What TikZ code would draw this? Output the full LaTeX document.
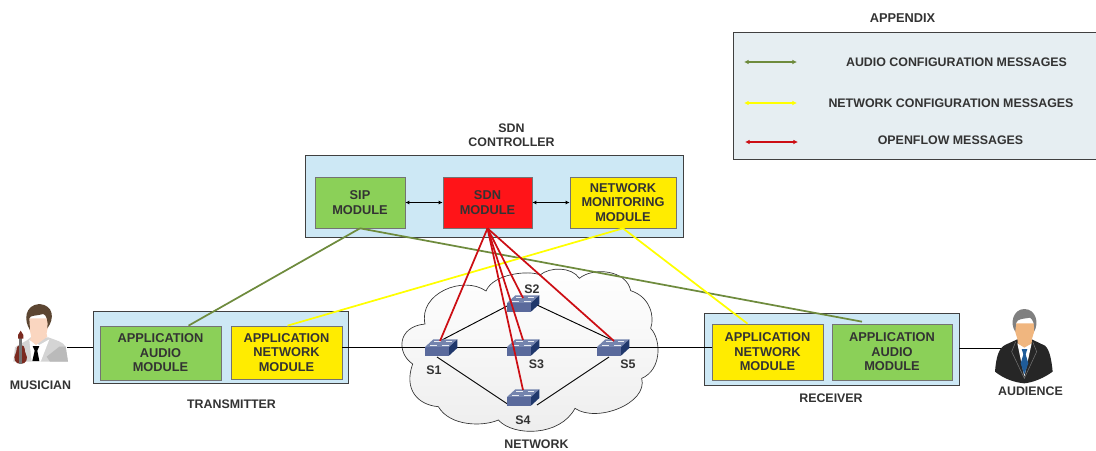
\documentclass[tikz,border=0pt]{standalone}
\usepackage{fontspec}
\setmainfont{Liberation Sans}
\usetikzlibrary{arrows.meta,calc}
\definecolor{txt}{HTML}{333333}
\definecolor{panel}{HTML}{CDE8F5}
\definecolor{modgreen}{HTML}{8BD058}
\definecolor{modred}{HTML}{FF1418}
\definecolor{modyellow}{HTML}{FFEC00}
\definecolor{lgreen}{HTML}{6E8B3D}
\definecolor{lyellow}{HTML}{FFFF00}
\definecolor{lred}{HTML}{CC0E14}
\definecolor{legendbg}{HTML}{E6EEF2}
\definecolor{swfront}{HTML}{5A6A9C}
\definecolor{swtop}{HTML}{7484AE}
\definecolor{swside}{HTML}{20386C}
\definecolor{hairbrown}{HTML}{5C4632}
\definecolor{skin}{HTML}{FAD6C0}
\definecolor{skindark}{HTML}{F0B67F}
\definecolor{violin}{HTML}{7A2A20}
\definecolor{tieblue}{HTML}{1F5C99}
\tikzset{
  sized/.style 2 args={minimum width=#1*0.75pt,minimum height=#2*0.75pt},
  panelbox/.style={draw=black!75,line width=0.6pt,fill=panel,inner sep=0pt},
  modbox/.style={draw=black!55,line width=0.5pt,inner sep=0pt,align=center,text=txt,
    font=\fontsize{9.6}{10.9}\selectfont\bfseries},
  lbl/.style={inner sep=0pt,align=center,text=txt,font=\fontsize{9.3}{10.6}\selectfont\bfseries},
  audio/.style={draw=lgreen,line width=1.3pt},
  netw/.style={draw=lyellow,line width=1.3pt},
  ofl/.style={draw=lred,line width=1.3pt},
  wire/.style={draw=black,line width=0.7pt},
  tips/.style={{Latex[length=3pt,width=3pt]}-{Latex[length=3pt,width=3pt]}},
  bigtips/.style={{Latex[length=3.5pt,width=3.6pt]}-{Latex[length=3.5pt,width=3.6pt]}},
  zoomed/.style 2 args={shift={(#1,#2)},x=0.25pt,y=-0.25pt},
}
% switch icon: #1 = name of the coordinate at the left top corner of the front face
\newcommand{\switchicon}[1]{%
  \begin{scope}[shift={(#1)},x=0.25pt,y=-0.25pt]
    \fill[swtop] (0,0) -- (25,-23) -- (97,-23) -- (72,0) -- cycle;
    \fill[swside] (72,0) -- (97,-23) -- (97,3) -- (72,26) -- cycle;
    \fill[swfront] (0,0) rectangle (72,26);
    \draw[white!85!swtop,line width=0.5pt] (28,-16) -- (48,-16) (62,-16) -- (82,-16) (16,-6) -- (36,-6) (52,-6) -- (72,-6);
  \end{scope}}
\begin{document}
\begin{tikzpicture}[x=0.75pt,y=-0.75pt]
\useasboundingbox (0,0) rectangle (1096,450);

% legend
\fill[legendbg] (733,32) rectangle (1096,159);
\draw[black!75,line width=0.6pt] (1096,32) -- (733,32) -- (733,159) -- (1096,159);
\node[lbl,font=\fontsize{9.6}{11}\selectfont\bfseries] (apx) at (902.5,18) {APPENDIX};
\node[lbl] (la) at (956.5,62.5) {AUDIO CONFIGURATION MESSAGES};
\node[lbl] (ln) at (951,103.5) {NETWORK CONFIGURATION MESSAGES};
\node[lbl] (lo) at (950.5,140) {OPENFLOW MESSAGES};
\coordinate (la1) at (744,62);  \coordinate (la2) at (797,62);
\coordinate (ln1) at (744,103); \coordinate (ln2) at (797,103);
\coordinate (lo1) at (745,142); \coordinate (lo2) at (798,142);
\draw[audio,line width=1pt,bigtips] (la1) -- (la2);
\draw[netw,line width=1pt,bigtips] (ln1) -- (ln2);
\draw[ofl,line width=1pt,bigtips] (lo1) -- (lo2);

% cloud
\begin{scope}[zoomed={390}{220}]
\draw[black!80,line width=0.5pt,top color=white,bottom color=black!7]
  (105,312) .. controls (85,220) and (220,165) .. (288,213)
  .. controls (310,160) and (420,150) .. (450,165)
  .. controls (480,140) and (545,140) .. (568,175)
  .. controls (610,140) and (710,150) .. (722,212)
  .. controls (780,230) and (795,290) .. (782,325)
  .. controls (815,360) and (815,450) .. (755,475)
  .. controls (775,550) and (620,610) .. (555,565)
  .. controls (510,650) and (370,650) .. (325,600)
  .. controls (280,620) and (180,620) .. (145,560)
  .. controls (85,555) and (40,510) .. (68,432)
  .. controls (20,400) and (20,320) .. (105,312) -- cycle;
\end{scope}

% panels
\node[panelbox,sized={378}{82}] (ctrl) at (494,196) {};
\node[panelbox,sized={255}{72}] (tx) at (220.5,347) {};
\node[panelbox,sized={255}{72}] (rx) at (831.5,349) {};

% modules
\node[modbox,fill=modgreen,sized={90}{51}] (sip) at (360,202.5) {SIP\\MODULE};
\node[modbox,fill=modred,sized={89}{51}] (sdn) at (487.5,202.5) {SDN\\MODULE};
\node[modbox,fill=modyellow,sized={106}{51}] (nm) at (623,202.5) {NETWORK\\MONITORING\\MODULE};
\node[modbox,fill=modgreen,sized={121}{54}] (txa) at (160.5,353) {APPLICATION\\AUDIO\\MODULE};
\node[modbox,fill=modyellow,sized={111}{53}] (txn) at (286.5,352.5) {APPLICATION\\NETWORK\\MODULE};
\node[modbox,fill=modyellow,sized={111}{56}] (rxn) at (767.5,352) {APPLICATION\\NETWORK\\MODULE};
\node[modbox,fill=modgreen,sized={120}{56}] (rxa) at (892,352) {APPLICATION\\AUDIO\\MODULE};

% labels
\node[lbl] (ctl) at (511.5,135) {SDN\\CONTROLLER};
\node[lbl] (mus) at (40.5,385) {MUSICIAN};
\node[lbl] (tl) at (231.5,404) {TRANSMITTER};
\node[lbl] (rl) at (831,398) {RECEIVER};
\node[lbl] (aud) at (1030.5,391) {AUDIENCE};
\node[lbl] (net) at (536.5,444.5) {NETWORK};
\node[lbl] (ts1) at (434,370) {S1};
\node[lbl] (ts2) at (532,289) {S2};
\node[lbl] (ts3) at (536.5,364.5) {S3};
\node[lbl] (ts4) at (523,420) {S4};
\node[lbl] (ts5) at (628,364.5) {S5};

% switches
\coordinate (s1) at (425,347);
\coordinate (s2) at (507,303);
\coordinate (s3) at (507,347);
\coordinate (s4) at (507,397);
\coordinate (s5) at (597,347);
\coordinate (mp) at (67,347);
\coordinate (ap) at (1003,348);

% wires
\draw[wire] (mp) -- (tx.west |- mp);
\draw[wire] (rx.east |- ap) -- (ap);
\draw[wire] (txn.east |- s1) -- (rxn.west |- s1);
\draw[wire] ($(s1)+(15,-6)$) -- ($(s2)+(2,2)$);
\draw[wire] ($(s2)+(30,2)$) -- ($(s5)+(17,-6)$);
\draw[wire] ($(s1)+(12,10)$) -- ($(s4)+(2,8)$);
\draw[wire] ($(s4)+(30,8)$) -- ($(s5)+(12,10)$);
\draw[wire,tips] (sip) -- (sdn);
\draw[wire,tips] (sdn) -- (nm);

\switchicon{s1}\switchicon{s2}\switchicon{s3}\switchicon{s4}\switchicon{s5}

% message lines
\draw[audio] (sip.south) -- ($(txa.north)+(28,0)$);
\draw[audio] (sip.south) -- ($(rxa.north)+(-30,-2)$);
\draw[netw] (nm.south) -- ($(txn.north)+(1,0)$);
\draw[netw] (nm.south) -- ($(rxn.north)+(-20,0)$);
\draw[ofl] (sdn.south) -- ($(s1)+(15,-6)$);
\draw[ofl] (sdn.south) -- ($(s2)+(16,-5)$);
\draw[ofl] (sdn.south) -- ($(s3)+(16,-7)$);
\draw[ofl] (sdn.south) -- ($(s4)+(16,-7)$);
\draw[ofl] (sdn.south) -- ($(s5)+(17,-6)$);

% musician
\begin{scope}[zoomed={0}{290}]
\fill[black!17] (45,172) .. controls (60,160) and (80,155) .. (92,142) -- (145,142)
  .. controls (165,150) and (190,155) .. (197,170) -- (204,215) -- (40,215) -- cycle;
\fill[black!27] (140,200) -- (178,170) -- (197,170) -- (204,215) -- (150,215) -- cycle;
\fill[white] (88,150) -- (118,165) -- (148,148) -- (122,215) -- (95,215) -- cycle;
\fill[black] (98,168) -- (118,168) -- (112,182) -- (118,213) -- (97,213) -- (104,182) -- cycle;
\fill[skin] (85,85) .. controls (85,125) and (100,140) .. (90,150) -- (108,165) -- (142,140)
  .. controls (134,130) and (148,110) .. (150,85) -- cycle;
\fill[hairbrown] (90,120) .. controls (70,90) and (75,45) .. (118,42)
  .. controls (160,45) and (165,85) .. (142,115)
  .. controls (145,95) and (140,75) .. (130,72) .. controls (110,78) and (90,75) .. (88,85) -- cycle;
\fill[violin] (62,165) .. controls (45,165) and (52,185) .. (47,190)
  .. controls (38,205) and (45,222) .. (62,222)
  .. controls (79,222) and (86,205) .. (77,190)
  .. controls (72,185) and (79,165) .. (62,165) -- cycle;
\fill[black!55] (58,135) rectangle (67,222);
\fill[violin] (62,122) -- (70,135) -- (70,146) -- (54,146) -- (54,135) -- cycle;
\end{scope}

% audience
\begin{scope}[zoomed={980}{295}]
\fill[black!85] (45,230) .. controls (48,190) and (55,160) .. (75,150) -- (112,133) -- (155,133) -- (195,152)
  .. controls (210,165) and (215,200) .. (218,230)
  .. controls (190,250) and (160,262) .. (133,265)
  .. controls (100,262) and (70,250) .. (45,230) -- cycle;
\fill[white] (112,145) -- (133,155) -- (155,145) -- (133,245) -- cycle;
\fill[tieblue] (125,162) -- (142,162) -- (137,178) -- (145,205) -- (133,238) -- (122,205) -- (130,178) -- cycle;
\draw[black!55,line width=0.4pt] (107,140) -- (95,170) -- (133,250) -- (170,170) -- (158,140);
\fill[skindark] (103,85) .. controls (103,120) and (115,125) .. (113,145) -- (133,158) -- (155,145)
  .. controls (153,125) and (165,120) .. (165,85) -- cycle;
\fill[black!50] (106,110) .. controls (88,85) and (100,42) .. (133,42)
  .. controls (168,42) and (178,85) .. (162,110)
  .. controls (165,90) and (160,75) .. (150,68) .. controls (130,72) and (112,70) .. (108,85) -- cycle;
\end{scope}
\end{tikzpicture}
\end{document}
